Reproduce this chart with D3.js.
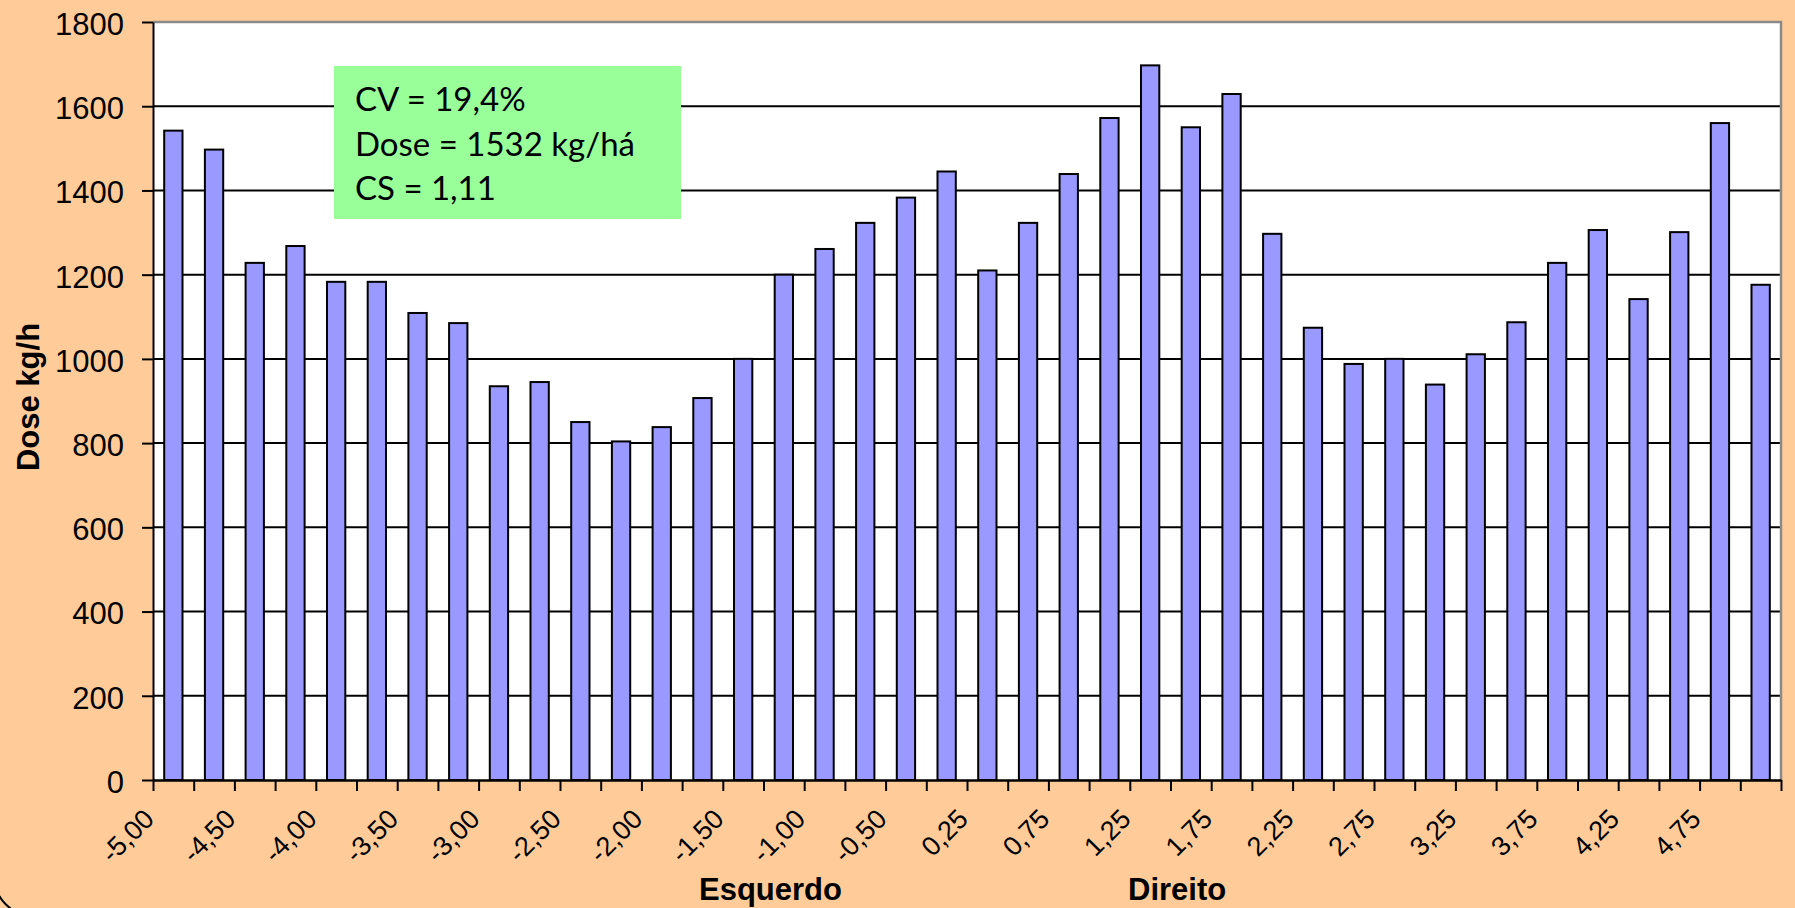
<!DOCTYPE html>
<html>
<head>
<meta charset="utf-8">
<script src="https://cdn.jsdelivr.net/npm/d3@7"></script>
<style>
  html, body { margin: 0; padding: 0; background: #FFCC99; }
  svg { display: block; }
</style>
</head>
<body>
<svg id="chart" width="1795" height="908"></svg>
<script>
// Positions across the spread width (m), left ("Esquerdo") and right ("Direito") of centre
const positions = [
  "-5,00","-4,75","-4,50","-4,25","-4,00","-3,75","-3,50","-3,25","-3,00","-2,75",
  "-2,50","-2,25","-2,00","-1,75","-1,50","-1,25","-1,00","-0,75","-0,50","-0,25",
  "0,25","0,50","0,75","1,00","1,25","1,50","1,75","2,00","2,25","2,50",
  "2,75","3,00","3,25","3,50","3,75","4,00","4,25","4,50","4,75","5,00"
];

// Applied dose per position (kg/h)
const dose = [
  1542, 1497, 1228, 1268, 1183, 1183, 1109, 1085, 935, 945,
  850, 804, 838, 907, 1000, 1200, 1261, 1323, 1383, 1445,
  1210, 1323, 1439, 1572, 1697, 1550, 1629, 1297, 1074, 988,
  1000, 939, 1011, 1087, 1228, 1306, 1142, 1301, 1560, 1176
];

// Labels shown under the x axis
const xTickLabels = [
  "-5,00","-4,50","-4,00","-3,50","-3,00","-2,50","-2,00","-1,50","-1,00","-0,50",
  "0,25","0,75","1,25","1,75","2,25","2,75","3,25","3,75","4,25","4,75"
];

// Value axis ticks
const yTicks = [0, 200, 400, 600, 800, 1000, 1200, 1400, 1600, 1800];

// Summary statistics box
const statsLines = ["CV = 19,4%", "Dose = 1532 kg/há", "CS = 1,11"];

const svg = d3.select("#chart");
const W = 1795, H = 908;
const plot = { left: 153, right: 1781, top: 22, bottom: 780 };
const FONT = "'Liberation Sans', Arial, sans-serif";

// Background and rounded outer frame
svg.append("rect").attr("width", W).attr("height", H).attr("fill", "#FFCC99");
svg.append("rect")
  .attr("x", -6).attr("y", -100).attr("width", 1910).attr("height", 1016)
  .attr("rx", 40).attr("fill", "none").attr("stroke", "#000").attr("stroke-width", 2);

// Scales
const x = d3.scaleBand()
  .domain(positions)
  .range([plot.left, plot.right])
  .paddingInner(0.55)
  .paddingOuter(0.275);
const step = x.step();

const y = d3.scaleLinear().domain([0, 1800]).range([plot.bottom, plot.top]);

// Category boundaries (ticks sit between categories)
const xEdge = d3.scaleLinear().domain([0, positions.length]).range([plot.left, plot.right]);

// Plot area
svg.append("rect")
  .attr("x", plot.left).attr("y", plot.top)
  .attr("width", plot.right - plot.left).attr("height", plot.bottom - plot.top)
  .attr("fill", "#fff");

// Horizontal gridlines
svg.append("g")
  .selectAll("line")
  .data(yTicks.filter(d => d > 0 && d < 1800))
  .join("line")
  .attr("x1", plot.left).attr("x2", plot.right)
  .attr("y1", d => y(d)).attr("y2", d => y(d))
  .attr("stroke", "#000").attr("stroke-width", 2);

// Top and right frame of the plot area
svg.append("path")
  .attr("d", `M${plot.left},${plot.top}H${plot.right}V${plot.bottom}`)
  .attr("fill", "none").attr("stroke", "#8a8a8a").attr("stroke-width", 2.5);

// Bars
svg.append("g")
  .selectAll("rect")
  .data(positions.map((p, i) => ({ p, v: dose[i] })))
  .join("rect")
  .attr("x", d => x(d.p))
  .attr("y", d => y(d.v))
  .attr("width", x.bandwidth())
  .attr("height", d => y(0) - y(d.v))
  .attr("fill", "#9999FF")
  .attr("stroke", "#000")
  .attr("stroke-width", 2);

// Y axis
const yAxis = svg.append("g")
  .attr("transform", `translate(${plot.left},0)`)
  .call(d3.axisLeft(y).tickValues(yTicks).tickSize(11).tickSizeOuter(0).tickPadding(18).tickFormat(d3.format("d")));
yAxis.select(".domain").attr("stroke", "#000").attr("stroke-width", 2);
yAxis.selectAll(".tick line").attr("stroke", "#000").attr("stroke-width", 2);
yAxis.selectAll(".tick text")
  .attr("font-family", FONT).attr("font-size", 31).attr("fill", "#000").attr("dy", "0.4em");

// X axis line with ticks at category boundaries
const xAxis = svg.append("g")
  .attr("transform", `translate(0,${plot.bottom})`)
  .call(d3.axisBottom(xEdge).tickValues(d3.range(positions.length + 1)).tickSize(11).tickSizeOuter(0).tickFormat(""));
xAxis.select(".domain").attr("stroke", "#000").attr("stroke-width", 2.5);
xAxis.selectAll(".tick line").attr("stroke", "#000").attr("stroke-width", 2);

// Rotated x tick labels
svg.append("g")
  .selectAll("text")
  .data(xTickLabels)
  .join("text")
  .attr("transform", d => {
    const edge = x(d) + x.bandwidth() / 2 - step / 2;
    return `translate(${edge - 4},${plot.bottom + 34}) rotate(-45)`;
  })
  .attr("text-anchor", "end")
  .attr("dy", "0.35em")
  .attr("font-family", FONT)
  .attr("font-size", 27)
  .attr("fill", "#000")
  .text(d => d);

// Axis titles
svg.append("text")
  .attr("transform", "translate(39,397) rotate(-90)")
  .attr("text-anchor", "middle")
  .attr("font-family", FONT).attr("font-weight", "bold").attr("font-size", 31)
  .attr("fill", "#000")
  .text("Dose kg/h");

svg.append("text")
  .attr("x", 699).attr("y", 900)
  .attr("font-family", FONT).attr("font-weight", "bold").attr("font-size", 31)
  .attr("fill", "#000")
  .text("Esquerdo");

svg.append("text")
  .attr("x", 1128).attr("y", 900)
  .attr("font-family", FONT).attr("font-weight", "bold").attr("font-size", 31)
  .attr("fill", "#000")
  .text("Direito");

// Statistics box
const box = svg.append("g");
box.append("rect")
  .attr("x", 334).attr("y", 66).attr("width", 347).attr("height", 153)
  .attr("fill", "#99FF99");
box.selectAll("text")
  .data(statsLines)
  .join("text")
  .attr("x", 355)
  .attr("y", (d, i) => 111 + i * 44.5)
  .attr("font-family", "Lato, 'Open Sans', sans-serif")
  .attr("font-size", 33)
  .attr("fill", "#000")
  .text(d => d);
</script>
</body>
</html>
